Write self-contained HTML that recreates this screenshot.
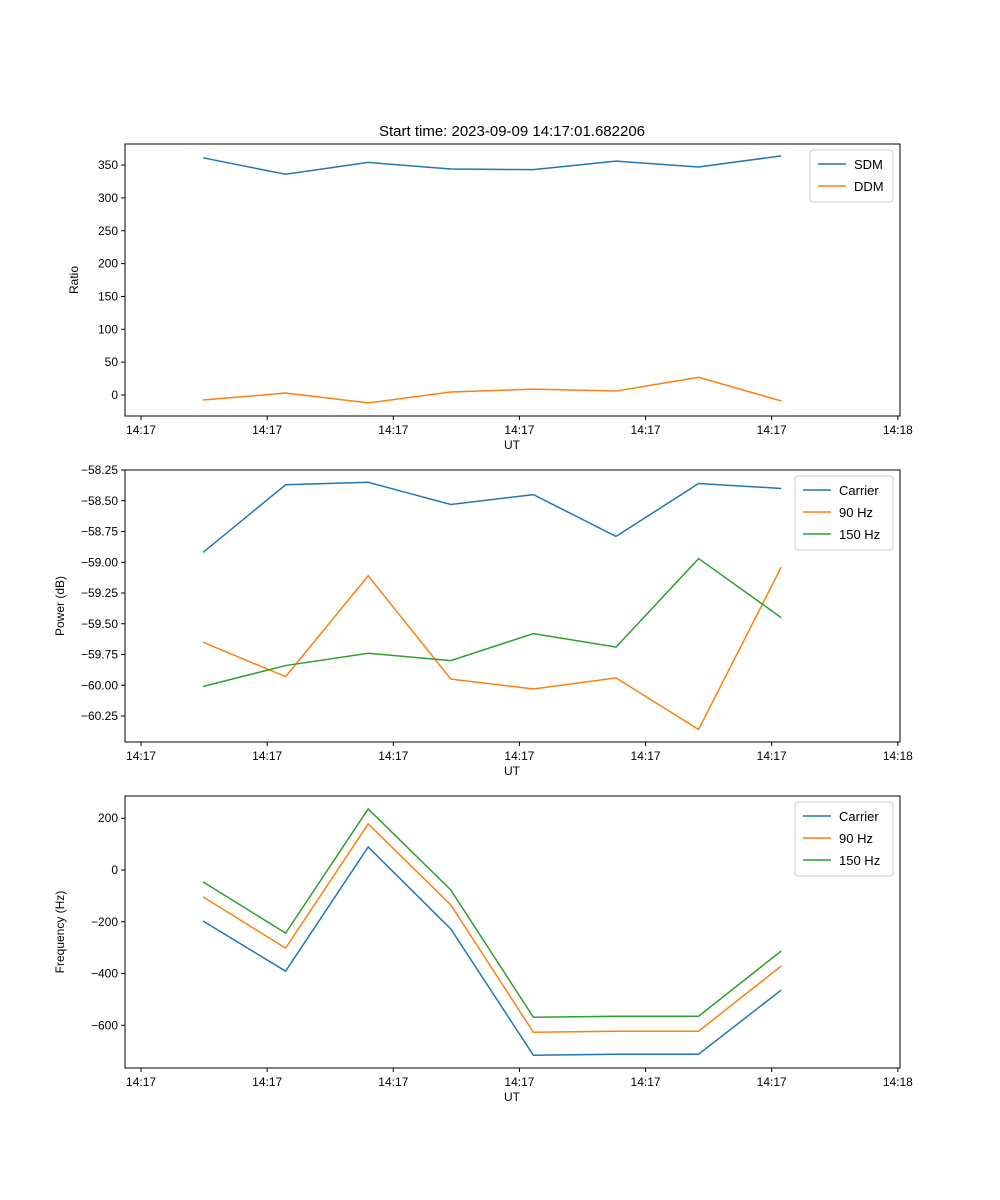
<!DOCTYPE html>
<html><head><meta charset="utf-8"><style>
body{margin:0;background:#fff}
svg{font-family:"Liberation Sans","DejaVu Sans",sans-serif;display:block}
</style></head><body>
<svg id="fig" width="1000" height="1200" xmlns="http://www.w3.org/2000/svg">
<rect width="1000" height="1200" fill="#fff"/>
<text x="512" y="136" font-size="15" text-anchor="middle">Start time: 2023-09-09 14:17:01.682206</text>
</svg>
<script>
const xIdx=[0,1,2,3,4,5,6,7];
const xTickPos=[-0.75,0.777,2.304,3.831,5.358,6.885,8.412];
const xTickLabels=["14:17","14:17","14:17","14:17","14:17","14:17","14:18"];
const sdm=[361,336,354,344,343,356,347,364];
const ddm=[-7.6,3,-12,4.5,9,6,27,-9];
const r1Ticks=[0,50,100,150,200,250,300,350];
const pCarrier=[-58.92,-58.37,-58.35,-58.53,-58.45,-58.79,-58.36,-58.40];
const p90=[-59.65,-59.93,-59.11,-59.95,-60.03,-59.94,-60.36,-59.04];
const p150=[-60.01,-59.84,-59.74,-59.80,-59.58,-59.69,-58.97,-59.45];
const p2Ticks=[-58.25,-58.5,-58.75,-59,-59.25,-59.5,-59.75,-60,-60.25];
const fCarrier=[-197,-391,89,-228,-716,-712,-712,-464];
const f90=[-104,-302,178,-135,-627,-623,-623,-371];
const f150=[-46,-244,236,-77,-569,-565,-565,-313];
const f3Ticks=[200,0,-200,-400,-600];

const svg=document.getElementById('fig');
const NS='http://www.w3.org/2000/svg';
function mk(tag,attrs,parent){const e=document.createElementNS(NS,tag);for(const k in attrs)e.setAttribute(k,attrs[k]);(parent||svg).appendChild(e);return e;}
const L=125,R=900;
const xs=t=>203+82.6*t;

function panel(name,top,bot,yFn,ticks,fmt,series,ylabel,legendW){
  const g=mk('g',{});
  
  
  series.forEach(s=>{
    const p=mk('polyline',{points:xIdx.map(i=>xs(i)+','+yFn(s.vals[i])).join(' '),fill:'none',stroke:s.color,'stroke-width':1.5},g);
    
    
  });
  const fr=mk('rect',{x:L,y:top,width:R-L,height:bot-top,fill:'none',stroke:'#000','stroke-width':1},g);
  
  
  xTickPos.forEach((t,i)=>{
    const x=xs(t);
    mk('line',{x1:x,x2:x,y1:bot,y2:bot+4,stroke:'#000'},g);
    const tx=mk('text',{x:x,y:bot+18,'font-size':12,'text-anchor':'middle'},g);
    tx.textContent=xTickLabels[i];
    
    
  });
  ticks.forEach(v=>{
    const y=yFn(v);
    mk('line',{x1:L-4,x2:L,y1:y,y2:y,stroke:'#000'},g);
    const tx=mk('text',{x:L-7,y:y+4,'font-size':12,'text-anchor':'end'},g);
    tx.textContent=fmt(v);
    
    
  });
  const xl=mk('text',{x:512,y:bot+33,'font-size':12,'text-anchor':'middle'},g);
  xl.textContent='UT';
  
  
  const yx=L-(ylabel==='Ratio'?47:61), yc=(top+bot)/2;
  const yl=mk('text',{x:yx,y:yc,'font-size':12,'text-anchor':'middle',transform:`rotate(-90 ${yx} ${yc})`},g);
  yl.textContent=ylabel;
  
  
  const lx=R-7-legendW, ly=top+6, lh=series.length*22+8;
  const lg=mk('g',{},g);
  
  
  mk('rect',{x:lx,y:ly,width:legendW,height:lh,rx:3,fill:'#fff',stroke:'#ccc','fill-opacity':0.8},lg);
  series.forEach((s,i)=>{
    const yy=ly+14+i*22;
    mk('line',{x1:lx+8,x2:lx+36,y1:yy,y2:yy,stroke:s.color,'stroke-width':1.5},lg);
    const t=mk('text',{x:lx+44,y:yy+5,'font-size':13},lg);
    t.textContent=s.label;
    
    
  });
}
const minus=s=>s.replace('-','\u2212');
panel('ratio-panel',144,416,v=>395-v*0.657,r1Ticks,v=>minus(String(v)),
 [{name:'sdm',label:'SDM',color:'#1f77b4',vals:sdm},{name:'ddm',label:'DDM',color:'#ff7f0e',vals:ddm}],'Ratio',83);
panel('power-panel',470,742,v=>470+(-58.25-v)*123,p2Ticks,v=>minus(v.toFixed(2)),
 [{name:'carrier',label:'Carrier',color:'#1f77b4',vals:pCarrier},{name:'90hz',label:'90 Hz',color:'#ff7f0e',vals:p90},{name:'150hz',label:'150 Hz',color:'#2ca02c',vals:p150}],'Power (dB)',98);
panel('frequency-panel',796,1068,v=>870-v*0.2588,f3Ticks,v=>minus(String(v)),
 [{name:'carrier',label:'Carrier',color:'#1f77b4',vals:fCarrier},{name:'90hz',label:'90 Hz',color:'#ff7f0e',vals:f90},{name:'150hz',label:'150 Hz',color:'#2ca02c',vals:f150}],'Frequency (Hz)',98);
</script>
</body></html>
